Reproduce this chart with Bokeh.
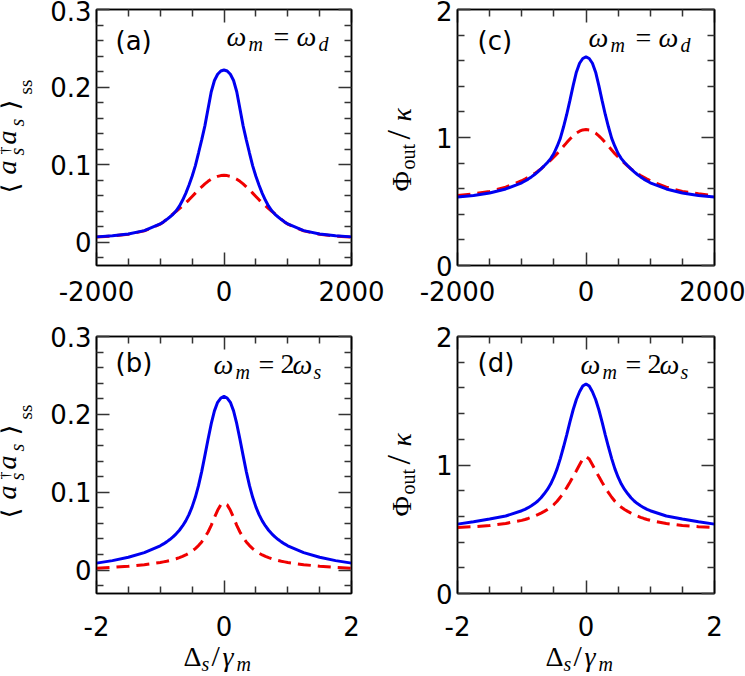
from bokeh.plotting import figure
from bokeh.models import Range1d, LinearAxis, FixedTicker, Label, GridBox
from bokeh.embed import file_html
from bokeh.resources import INLINE

# ---------------- data ----------------
x_top = [-2000, -1750, -1500, -1250, -1000, -950, -900, -850, -800, -750, -700, -650, -600, -550,
         -500, -450, -400, -350, -300, -250, -200, -150, -100, -50, 0, 50, 100, 150, 200, 250, 300,
         350, 400, 450, 500, 550, 600, 650, 700, 750, 800, 850, 900, 950, 1000, 1250, 1500, 1750,
         2000]
x_bot = [-2.0, -1.75, -1.5, -1.25, -1.0, -0.95, -0.9, -0.85, -0.8, -0.75, -0.7, -0.65, -0.6, -0.55,
         -0.5, -0.45, -0.4, -0.35, -0.3, -0.25, -0.2, -0.15, -0.1, -0.05, 0.0, 0.05, 0.1, 0.15, 0.2,
         0.25, 0.3, 0.35, 0.4, 0.45, 0.5, 0.55, 0.6, 0.65, 0.7, 0.75, 0.8, 0.85, 0.9, 0.95, 1.0,
         1.25, 1.5, 1.75, 2.0]

# (a) <a_s^dag a_s>_ss, omega_m = omega_d
a_blue = [.0069, .0083, .0105, .0150, .0236, .0262, .0292, .0325, .0360, .0405, .0465, .0540, .0630,
          .0735, .0850, .0985, .1150, .1320, .1500, .1720, .1940, .2085, .2165, .2207, .2220, .2207,
          .2165, .2085, .1940, .1720, .1500, .1320, .1150, .0985, .0850, .0735, .0630, .0540, .0465,
          .0405, .0360, .0325, .0292, .0262, .0236, .0150, .0105, .0083, .0069]
a_red = [.0066, .0080, .0102, .0146, .0234, .0262, .0295, .0330, .0365, .0398, .0433, .0470, .0508,
         .0547, .0590, .0633, .0675, .0715, .0752, .0785, .0812, .0833, .0849, .0859, .0862, .0859,
         .0849, .0833, .0812, .0785, .0752, .0715, .0675, .0633, .0590, .0547, .0508, .0470, .0433,
         .0398, .0365, .0330, .0295, .0262, .0234, .0146, .0102, .0080, .0066]

# (b) <a_s^dag a_s>_ss, omega_m = 2 omega_s
b_blue = [.0090, .0122, .0165, .0225, .0313, .0337, .0363, .0393, .0427, .0466, .0512, .0567, .0632,
          .0712, .0812, .0935, .1085, .1265, .1470, .1680, .1880, .2045, .2155, .2210, .2230, .2210,
          .2155, .2045, .1880, .1680, .1470, .1265, .1085, .0935, .0812, .0712, .0632, .0567, .0512,
          .0466, .0427, .0393, .0363, .0337, .0313, .0225, .0165, .0122, .0090]
b_red = [.0025, .0035, .0050, .0070, .0098, .0106, .0114, .0123, .0134, .0146, .0160, .0176, .0195,
         .0218, .0245, .0277, .0315, .0362, .0420, .0490, .0575, .0675, .0768, .0838, .0860, .0838,
         .0768, .0675, .0575, .0490, .0420, .0362, .0315, .0277, .0245, .0218, .0195, .0176, .0160,
         .0146, .0134, .0123, .0114, .0106, .0098, .0070, .0050, .0035, .0025]

# (c) Phi_out / kappa, omega_m = omega_d
c_blue = [.535, .547, .566, .598, .646, .660, .675, .692, .711, .732, .755, .779, .805, .835, .875,
          .930, .993, 1.082, 1.180, 1.290, 1.405, 1.510, 1.580, 1.617, 1.630, 1.617, 1.580, 1.510,
          1.405, 1.290, 1.180, 1.082, .993, .930, .875, .835, .805, .779, .755, .732, .711, .692,
          .675, .660, .646, .598, .566, .547, .535]
c_red = [.546, .560, .578, .612, .662, .675, .689, .703, .718, .736, .755, .777, .800, .823, .848,
         .874, .902, .931, .960, .988, 1.013, 1.034, 1.049, 1.059, 1.062, 1.059, 1.049, 1.034, 1.013,
         .988, .960, .931, .902, .874, .848, .823, .800, .777, .755, .736, .718, .703, .689, .675,
         .662, .612, .578, .560, .546]

# (d) Phi_out / kappa, omega_m = 2 omega_s
d_blue = [.540, .558, .580, .603, .644, .655, .668, .683, .700, .720, .745, .776, .810, .852, .905,
          .970, 1.050, 1.140, 1.235, 1.335, 1.430, 1.510, 1.570, 1.615, 1.631, 1.615, 1.570, 1.510,
          1.430, 1.335, 1.235, 1.140, 1.050, .970, .905, .852, .810, .776, .745, .720, .700, .683,
          .668, .655, .644, .603, .580, .558, .540]
d_red = [.514, .520, .529, .545, .569, .576, .584, .593, .603, .614, .626, .639, .654, .671, .692,
         .718, .749, .785, .824, .866, .910, .955, 1.002, 1.047, 1.065, 1.047, 1.002, .955, .910,
         .866, .824, .785, .749, .718, .692, .671, .654, .639, .626, .614, .603, .593, .584, .576,
         .569, .545, .529, .520, .514]

# ticks and tick labels
xt_top_major = [-2000, 0, 2000]
xt_top_minor = [-1500, -1000, -500, 500, 1000, 1500]
xt_top_labels = {-2000: "-2000", 0: "0", 2000: "2000"}
xt_bot_major = [-2, 0, 2]
xt_bot_minor = [-1.5, -1.0, -0.5, 0.5, 1.0, 1.5]
xt_bot_labels = {-2: "-2", 0: "0", 2: "2"}
yt_n_major = [0, 0.1, 0.2, 0.3]
yt_n_minor = [-0.02, 0.02, 0.04, 0.06, 0.08, 0.12, 0.14, 0.16, 0.18, 0.22, 0.24, 0.26, 0.28]
yt_n_labels = {0: "0", 0.1: "0.1", 0.2: "0.2", 0.3: "0.3"}
yt_p_major = [0, 1, 2]
yt_p_minor = [0.2, 0.4, 0.6, 0.8, 1.2, 1.4, 1.6, 1.8]
yt_p_labels = {0: "0", 1: "1", 2: "2"}

BLUE = "#0000f0"
RED = "#f00000"
TICK_FONT = "DejaVu Sans"
MATH = "Liberation Serif"


def style_axis(ax, ticks, minor, labels=True, overrides=None, standoff=5):
    ax.ticker = FixedTicker(ticks=ticks, minor_ticks=minor)
    ax.major_tick_in = 13
    ax.major_tick_out = 0
    ax.minor_tick_in = 7
    ax.minor_tick_out = 0
    ax.major_tick_line_color = "#333333"
    ax.minor_tick_line_color = "#333333"
    ax.major_tick_line_width = 1.5
    ax.minor_tick_line_width = 1.5
    ax.axis_line_color = "black"
    ax.axis_line_width = 1.5
    if labels:
        ax.major_label_text_font = TICK_FONT
        ax.major_label_text_font_size = "26px"
        ax.major_label_text_color = "black"
        ax.major_label_standoff = standoff
        ax.major_label_overrides = overrides
    else:
        ax.major_label_text_font_size = "1px"
        ax.major_label_text_color = None
        ax.major_label_standoff = 0


def make_panel(w, h, bl, br, bt, bb, xr, yr, xt, xtm, xover, xstand, yt, ytm, yover, x, yb, yr_vals):
    p = figure(width=w, height=h, x_range=Range1d(*xr), y_range=Range1d(*yr),
               output_backend="svg", toolbar_location=None, frame_align=False,
               min_border_left=bl, min_border_right=br, min_border_top=bt, min_border_bottom=bb)
    p.xgrid.visible = False
    p.ygrid.visible = False
    p.outline_line_color = "black"
    p.outline_line_width = 1.5
    p.background_fill_color = "white"
    p.border_fill_color = "white"
    style_axis(p.xaxis[0], xt, xtm, overrides=xover, standoff=xstand)
    style_axis(p.yaxis[0], yt, ytm, overrides=yover, standoff=5)
    top = LinearAxis()
    style_axis(top, xt, xtm, labels=False)
    p.add_layout(top, "above")
    right = LinearAxis()
    style_axis(right, yt, ytm, labels=False)
    p.add_layout(right, "right")
    p.line(x, yr_vals, line_color=RED, line_width=3, line_dash="13 7")
    p.line(x, yb, line_color=BLUE, line_width=3)
    return p


pa = make_panel(390, 320, 96, 39, 9, 55, (-2000, 2000), (-0.03, 0.3), xt_top_major, xt_top_minor,
                xt_top_labels, 15, yt_n_major, yt_n_minor, yt_n_labels, x_top, a_blue, a_red)
pc = make_panel(355, 320, 67, 31, 9, 55, (-2000, 2000), (0, 2), xt_top_major, xt_top_minor,
                xt_top_labels, 15, yt_p_major, yt_p_minor, yt_p_labels, x_top, c_blue, c_red)
pb = make_panel(390, 356, 96, 39, 16, 83, (-2, 2), (-0.03, 0.3), xt_bot_major, xt_bot_minor,
                xt_bot_labels, 22, yt_n_major, yt_n_minor, yt_n_labels, x_bot, b_blue, b_red)
pd = make_panel(355, 356, 67, 31, 16, 83, (-2, 2), (0, 2), xt_bot_major, xt_bot_minor,
                xt_bot_labels, 22, yt_p_major, yt_p_minor, yt_p_labels, x_bot, d_blue, d_red)

# ---------------- transparent overlay for all texts (page pixel coordinates) ----------------
ov = figure(width=745, height=676, x_range=Range1d(0, 745), y_range=Range1d(676, 0),
            output_backend="svg", toolbar_location=None, min_border=0, frame_align=False,
            x_axis_location=None, y_axis_location=None)
ov.xgrid.visible = False
ov.ygrid.visible = False
ov.outline_line_color = None
ov.background_fill_color = None
ov.border_fill_color = None

K = 0.40  # text anchor sits this fraction of the font size above the baseline


def t(x, y, text, size=28, font=MATH, style="normal", rot=False):
    if rot:
        ax, ay, ang = x - K * size, y, 90
    else:
        ax, ay, ang = x, y - K * size, 0
    ov.add_layout(Label(x=ax, y=ay, x_units="data", y_units="data", text=text,
                        text_font=font, text_font_size=f"{size}px", text_font_style=style,
                        text_color="black", text_align="left", text_baseline="alphabetic",
                        angle=ang, angle_units="deg"))


def ylabel_n(dy):
    t(19, 193 + dy, "\u27e8", 28, "DejaVu Sans", rot=True)
    t(17, 174 + dy, "a", 28, style="italic", rot=True)
    t(24, 155 + dy, "s", 20, style="italic", rot=True)
    t(10, 154 + dy, "\u2020", 16, rot=True)
    t(17, 144 + dy, "a", 28, style="italic", rot=True)
    t(24, 126 + dy, "s", 20, style="italic", rot=True)
    t(19, 110 + dy, "\u27e9", 28, "DejaVu Sans", rot=True)
    t(33, 94 + dy, "ss", 19, rot=True)


def ylabel_p(dy):
    t(412, 191 + dy, "\u03a6", 28, rot=True)
    t(415, 169 + dy, "out", 20, rot=True)
    t(412, 139 + dy, "/", 34, rot=True)
    t(412, 121 + dy, "\u03ba", 28, style="italic", rot=True)


def xlabel(dx):
    t(183 + dx, 667, "\u0394", 28)
    t(201 + dx, 671, "s", 20, style="italic")
    t(211 + dx, 667, "/", 30)
    t(222 + dx, 667, "\u03b3", 28, style="italic")
    t(236 + dx, 671, "m", 20, style="italic")


def ann_d(x0, yb):
    t(x0, yb, "\u03c9", 28, style="italic")
    t(x0 + 22, yb + 4, "m", 20, style="italic")
    t(x0 + 47, yb, "=", 28)
    t(x0 + 70, yb, "\u03c9", 28, style="italic")
    t(x0 + 92, yb + 4, "d", 20, style="italic")


def ann_s(x0, yb):
    t(x0, yb, "\u03c9", 28, style="italic")
    t(x0 + 22, yb + 4, "m", 20, style="italic")
    t(x0 + 45, yb, "=", 28)
    t(x0 + 67, yb, "2", 28)
    t(x0 + 79, yb, "\u03c9", 28, style="italic")
    t(x0 + 100, yb + 4, "s", 20, style="italic")


ylabel_n(0)
ylabel_n(325)
ylabel_p(0)
ylabel_p(325)
xlabel(0)
xlabel(362)
ann_d(226, 47)
ann_d(588, 48)
ann_s(213, 375)
ann_s(580, 375)
t(115, 51, "(a)", 26, TICK_FONT)
t(477, 51, "(c)", 26, TICK_FONT)
t(115, 373, "(b)", 26, TICK_FONT)
t(477, 373, "(d)", 26, TICK_FONT)

layout = GridBox(children=[(pa, 0, 0), (pc, 0, 1), (pb, 1, 0), (pd, 1, 1), (ov, 0, 0, 2, 2)])

open("out.html", "w").write(file_html(layout, INLINE))
